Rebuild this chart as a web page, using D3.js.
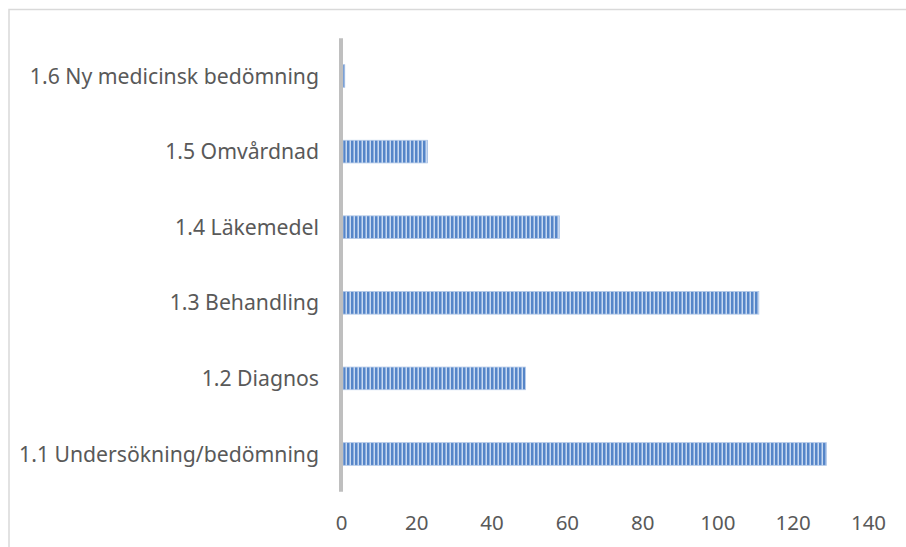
<!DOCTYPE html>
<html><head><meta charset="utf-8">
<script src="https://cdn.jsdelivr.net/npm/d3@7"></script>
<style>
html,body{margin:0;padding:0;background:#fff;}
svg{display:block;}
text{font-family:"Noto Sans","Open Sans",sans-serif;fill:#595959;}
</style></head>
<body>
<script>
const categories = ["1.1 Undersökning/bedömning","1.2 Diagnos","1.3 Behandling","1.4 Läkemedel","1.5 Omvårdnad","1.6 Ny medicinsk bedömning"];
const values = [129, 49, 111, 58, 23, 1];
const tickValues = [0, 20, 40, 60, 80, 100, 120, 140];

const W = 906, H = 547;
const svg = d3.select("body").append("svg").attr("width", W).attr("height", H);

// chart border
svg.append("rect").attr("x", 9).attr("y", 9.5).attr("width", W + 20).attr("height", H + 20)
  .attr("fill", "none").attr("stroke", "#d9d9d9").attr("stroke-width", 1.5);

const defs = svg.append("defs");
const pat = defs.append("pattern").attr("id", "stripes").attr("patternUnits", "userSpaceOnUse")
  .attr("x", 343).attr("y", 0).attr("width", 4).attr("height", 10);
pat.append("rect").attr("x", 0).attr("y", 0).attr("width", 4).attr("height", 10).attr("fill", "#c8d9f0");
pat.append("rect").attr("x", 0).attr("y", 0).attr("width", 2).attr("height", 10).attr("fill", "#5585c8");
pat.append("rect").attr("x", 2).attr("y", 0).attr("width", 1).attr("height", 10).attr("fill", "#8fb0de");

const x = d3.scaleLinear().domain([0, 140]).range([341, 868]);
const y = d3.scaleBand().domain(categories).range([491.8, 38.2]).paddingInner(0.7).paddingOuter(0.35);

const data = categories.map((c, i) => ({c, v: values[i]}));

svg.append("g").selectAll("rect").data(data).join("rect")
  .attr("x", x(0) + 2)
  .attr("y", d => y(d.c))
  .attr("width", d => Math.max(0, x(d.v) - x(0) - 2))
  .attr("height", y.bandwidth())
  .attr("fill", "url(#stripes)")
  .attr("stroke", "#b3c9e8").attr("stroke-width", 0.8);

// vertical category axis line
svg.append("line").attr("x1", x(0)).attr("x2", x(0)).attr("y1", 38.2).attr("y2", 491.8)
  .attr("stroke", "#bfbfbf").attr("stroke-width", 4);

// category labels
const yAxis = d3.axisLeft(y).tickSize(0).tickPadding(0);
const gy = svg.append("g").attr("transform", `translate(319,0)`).call(yAxis);
gy.select(".domain").remove();
gy.selectAll("text").attr("font-size", 21.2).attr("fill", "#595959")
  .attr("font-family", '"Noto Sans","Open Sans",sans-serif').attr("dy", "0.36em").attr("x", 0);

// value axis labels
const xAxis = d3.axisBottom(x).tickValues(tickValues).tickSize(0).tickPadding(0).tickFormat(d3.format("d"));
const gx = svg.append("g").attr("transform", `translate(0,530)`).call(xAxis);
gx.select(".domain").remove();
gx.selectAll("text").attr("font-size", 20.5).attr("fill", "#595959")
  .attr("font-family", '"Noto Sans","Open Sans",sans-serif').attr("dy", 0).attr("y", 0);
</script>
</body></html>
